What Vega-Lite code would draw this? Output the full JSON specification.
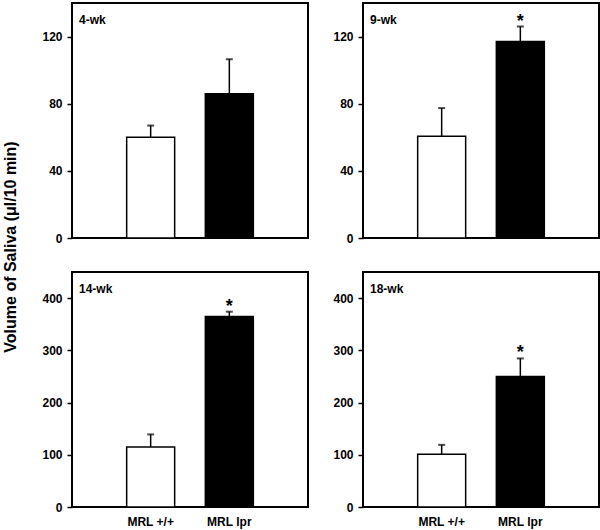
{
  "$schema": "https://vega.github.io/schema/vega-lite/v6.json",
  "padding": {"left": 2, "top": 2, "right": 2, "bottom": 2},
  "background": "white",
  "datasets": {
    "saliva": [
      {"panel": "4-wk", "group": "MRL +/+", "mean": 60, "upper": 67, "sig": false},
      {"panel": "4-wk", "group": "MRL lpr", "mean": 86, "upper": 106.5, "sig": false},
      {"panel": "9-wk", "group": "MRL +/+", "mean": 60.6, "upper": 77.4, "sig": false},
      {"panel": "9-wk", "group": "MRL lpr", "mean": 117, "upper": 126, "sig": true},
      {"panel": "14-wk", "group": "MRL +/+", "mean": 115, "upper": 139, "sig": false},
      {"panel": "14-wk", "group": "MRL lpr", "mean": 365, "upper": 374, "sig": true},
      {"panel": "18-wk", "group": "MRL +/+", "mean": 101, "upper": 119, "sig": false},
      {"panel": "18-wk", "group": "MRL lpr", "mean": 250, "upper": 284.5, "sig": true}
    ]
  },
  "title": {
    "text": "Volume of Saliva (μl/10 min)",
    "orient": "left",
    "anchor": "middle",
    "font": "Liberation Sans",
    "fontSize": 16,
    "fontWeight": "bold",
    "color": "black",
    "frame": "bounds",
    "offset": 22,
    "dx": 18
  },
  "config": {
    "view": {"stroke": "black", "strokeWidth": 2},
    "font": "Liberation Sans",
    "axis": {
      "labelFont": "Liberation Sans",
      "labelFontWeight": "bold",
      "labelFontSize": 12,
      "labelColor": "black",
      "grid": false,
      "domain": false
    },
    "axisY": {"tickColor": "black", "tickWidth": 1.5, "tickSize": 5, "labelPadding": 5, "title": null},
    "title": {"font": "Liberation Sans", "fontSize": 12, "fontWeight": "bold", "color": "black", "anchor": "start", "frame": "group"}
  },
  "vconcat": [
    {
      "hconcat": [
        {
          "width": 236, "height": 235,
          "title": {"text": "4-wk", "offset": -24, "dx": 7, "frame": "group"},
          "data": {"name": "saliva"},
          "transform": [{"filter": "datum.panel === '4-wk'"}],
          "encoding": {
            "x": {"field": "group", "type": "nominal", "sort": ["MRL +/+", "MRL lpr"], "axis": null, "scale": {"paddingInner": 0.39, "paddingOuter": 0.695}}
          },
          "layer": [
            {"mark": {"type": "rule", "color": "black", "strokeWidth": 1.5}, "encoding": {"y": {"field": "mean", "type": "quantitative", "scale": {"domain": [0, 140]}, "axis": {"values": [0, 40, 80, 120]}}, "y2": {"field": "upper"}}},
            {"mark": {"type": "tick", "color": "black", "thickness": 2, "size": 7}, "encoding": {"y": {"field": "upper", "type": "quantitative"}}},
            {"mark": {"type": "bar", "stroke": "black", "strokeWidth": 1.5}, "encoding": {"y": {"field": "mean", "type": "quantitative"}, "color": {"field": "group", "type": "nominal", "scale": {"domain": ["MRL +/+", "MRL lpr"], "range": ["white", "black"]}, "legend": null}}},
            {"transform": [{"filter": "datum.sig"}], "mark": {"type": "text", "text": "*", "fontSize": 18, "fontWeight": "bold", "baseline": "alphabetic", "dy": 0, "color": "black"}, "encoding": {"y": {"field": "upper", "type": "quantitative"}}}
          ]
        },
        {
          "width": 236, "height": 235,
          "title": {"text": "9-wk", "offset": -24, "dx": 7, "frame": "group"},
          "data": {"name": "saliva"},
          "transform": [{"filter": "datum.panel === '9-wk'"}],
          "encoding": {
            "x": {"field": "group", "type": "nominal", "sort": ["MRL +/+", "MRL lpr"], "axis": null, "scale": {"paddingInner": 0.39, "paddingOuter": 0.695}}
          },
          "layer": [
            {"mark": {"type": "rule", "color": "black", "strokeWidth": 1.5}, "encoding": {"y": {"field": "mean", "type": "quantitative", "scale": {"domain": [0, 140]}, "axis": {"values": [0, 40, 80, 120]}}, "y2": {"field": "upper"}}},
            {"mark": {"type": "tick", "color": "black", "thickness": 2, "size": 7}, "encoding": {"y": {"field": "upper", "type": "quantitative"}}},
            {"mark": {"type": "bar", "stroke": "black", "strokeWidth": 1.5}, "encoding": {"y": {"field": "mean", "type": "quantitative"}, "color": {"field": "group", "type": "nominal", "scale": {"domain": ["MRL +/+", "MRL lpr"], "range": ["white", "black"]}, "legend": null}}},
            {"transform": [{"filter": "datum.sig"}], "mark": {"type": "text", "text": "*", "fontSize": 18, "fontWeight": "bold", "baseline": "alphabetic", "dy": 0, "color": "black"}, "encoding": {"y": {"field": "upper", "type": "quantitative"}}}
          ]
        }
      ],
      "spacing": 22
    },
    {
      "hconcat": [
        {
          "width": 236, "height": 235,
          "title": {"text": "14-wk", "offset": -24, "dx": 7, "frame": "group"},
          "data": {"name": "saliva"},
          "transform": [{"filter": "datum.panel === '14-wk'"}],
          "encoding": {
            "x": {"field": "group", "type": "nominal", "sort": ["MRL +/+", "MRL lpr"], "title": null, "axis": {"ticks": false, "labelAngle": 0, "labelPadding": 9, "labelFontSize": 12}, "scale": {"paddingInner": 0.39, "paddingOuter": 0.695}}
          },
          "layer": [
            {"mark": {"type": "rule", "color": "black", "strokeWidth": 1.5}, "encoding": {"y": {"field": "mean", "type": "quantitative", "scale": {"domain": [0, 420]}, "axis": {"values": [0, 100, 200, 300, 400]}}, "y2": {"field": "upper"}}},
            {"mark": {"type": "tick", "color": "black", "thickness": 2, "size": 7}, "encoding": {"y": {"field": "upper", "type": "quantitative"}}},
            {"mark": {"type": "bar", "stroke": "black", "strokeWidth": 1.5}, "encoding": {"y": {"field": "mean", "type": "quantitative"}, "color": {"field": "group", "type": "nominal", "scale": {"domain": ["MRL +/+", "MRL lpr"], "range": ["white", "black"]}, "legend": null}}},
            {"transform": [{"filter": "datum.sig"}], "mark": {"type": "text", "text": "*", "fontSize": 18, "fontWeight": "bold", "baseline": "alphabetic", "dy": 0, "color": "black"}, "encoding": {"y": {"field": "upper", "type": "quantitative"}}}
          ]
        },
        {
          "width": 236, "height": 235,
          "title": {"text": "18-wk", "offset": -24, "dx": 7, "frame": "group"},
          "data": {"name": "saliva"},
          "transform": [{"filter": "datum.panel === '18-wk'"}],
          "encoding": {
            "x": {"field": "group", "type": "nominal", "sort": ["MRL +/+", "MRL lpr"], "title": null, "axis": {"ticks": false, "labelAngle": 0, "labelPadding": 9, "labelFontSize": 12}, "scale": {"paddingInner": 0.39, "paddingOuter": 0.695}}
          },
          "layer": [
            {"mark": {"type": "rule", "color": "black", "strokeWidth": 1.5}, "encoding": {"y": {"field": "mean", "type": "quantitative", "scale": {"domain": [0, 420]}, "axis": {"values": [0, 100, 200, 300, 400]}}, "y2": {"field": "upper"}}},
            {"mark": {"type": "tick", "color": "black", "thickness": 2, "size": 7}, "encoding": {"y": {"field": "upper", "type": "quantitative"}}},
            {"mark": {"type": "bar", "stroke": "black", "strokeWidth": 1.5}, "encoding": {"y": {"field": "mean", "type": "quantitative"}, "color": {"field": "group", "type": "nominal", "scale": {"domain": ["MRL +/+", "MRL lpr"], "range": ["white", "black"]}, "legend": null}}},
            {"transform": [{"filter": "datum.sig"}], "mark": {"type": "text", "text": "*", "fontSize": 18, "fontWeight": "bold", "baseline": "alphabetic", "dy": 0, "color": "black"}, "encoding": {"y": {"field": "upper", "type": "quantitative"}}}
          ]
        }
      ],
      "spacing": 22
    }
  ],
  "spacing": 26
}
